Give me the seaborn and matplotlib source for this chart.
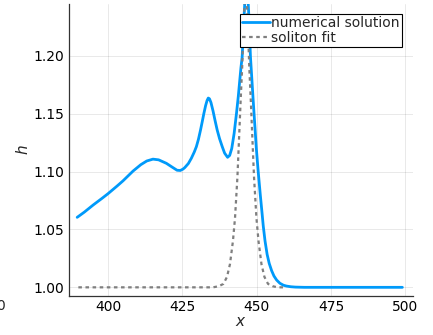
import numpy as np
import pandas as pd
import matplotlib
matplotlib.use("Agg")
import matplotlib.pyplot as plt
import seaborn as sns

# numerical solution
x_num = [389.6, 392, 395, 398, 400, 403, 405, 408.4, 411, 413, 415.1, 417, 419.6,
         421.5, 423.2, 424.3, 425.2, 425.8, 427.0, 428.0, 429.0, 429.7, 430.4,
         431.1, 431.7, 432.2, 432.8, 433.3, 433.7, 434.1, 434.6, 435.3, 436.0,
         436.7, 437.5, 438.4, 439.2, 440.2, 440.9, 441.6, 442.4, 443.2, 443.8,
         444.3, 444.7, 445.1, 445.8, 446.6, 447.3, 447.9, 448.8, 449.9, 450.5,
         451.2, 451.8, 452.2, 452.8, 453.5, 454.2, 455.0, 455.8, 456.7, 457.8,
         459.0, 460.0, 461.5, 463.0, 466.0, 475.0, 485.0, 499.0]
h_num = [1.0605, 1.0650, 1.0712, 1.0770, 1.0810, 1.0875, 1.0920, 1.1005, 1.1060,
         1.1092, 1.1108, 1.1102, 1.1072, 1.1040, 1.1012, 1.1010, 1.1022, 1.1035,
         1.1070, 1.1115, 1.1170, 1.1216, 1.1280, 1.1360, 1.1435, 1.1500, 1.1570,
         1.1615, 1.1636, 1.1630, 1.1598, 1.1525, 1.1440, 1.1360, 1.1285, 1.1216,
         1.1160, 1.1124, 1.1140, 1.1200, 1.1330, 1.1505, 1.1650, 1.1790, 1.1900,
         1.1990, 1.2370, 1.2750, 1.2370, 1.1990, 1.1620, 1.1190, 1.1000, 1.0800,
         1.0640, 1.0530, 1.0400, 1.0285, 1.0207, 1.0145, 1.0098, 1.0063, 1.0035,
         1.0018, 1.0011, 1.0005, 1.0002, 1.0, 1.0, 1.0, 1.0]

# soliton fit
x_fit = [390, 400, 410, 420, 430, 435.3, 437.3, 438.8, 440.0, 441.0, 442.0, 442.7,
         443.5, 443.9, 444.6, 445.1, 445.5, 446.3, 447.1, 447.5, 448.0, 448.7,
         449.1, 449.9, 450.6, 451.6, 452.6, 453.8, 455.3, 457.0, 459.5]
h_fit = [1.0, 1.0, 1.0, 1.0, 1.0, 1.0, 1.001, 1.003, 1.009, 1.020, 1.040, 1.060,
         1.095, 1.119, 1.162, 1.190, 1.220, 1.270, 1.220, 1.190, 1.162, 1.119,
         1.095, 1.060, 1.040, 1.020, 1.009, 1.003, 1.001, 1.0, 1.0]

x_ticks = [400, 425, 450, 475, 500]
y_ticks = [1.00, 1.05, 1.10, 1.15, 1.20]
y_tick_labels = ["1.00", "1.05", "1.10", "1.15", "1.20"]

df_num = pd.DataFrame({"x": x_num, "h": h_num})
df_fit = pd.DataFrame({"x": x_fit, "h": h_fit})

sns.set_style("white")
plt.rcParams["font.family"] = ["DejaVu Sans"]

fig = plt.figure(figsize=(4.33, 3.35), dpi=100)
ax = fig.add_axes([0.159, 0.1164, 0.795, 0.872])

sns.lineplot(data=df_num, x="x", y="h", ax=ax, color="#009AFA", lw=2.0,
             label="numerical solution", sort=False)
sns.lineplot(data=df_fit, x="x", y="h", ax=ax, color="#7f7f7f", lw=1.6,
             linestyle=(0, (1.6, 1.6)), label="soliton fit", sort=False)

ax.set_xlim(386.8, 502.6)
ax.set_ylim(0.9925, 1.245)
ax.set_xticks(x_ticks)
ax.set_yticks(y_ticks)
ax.set_yticklabels(y_tick_labels)
ax.grid(True, color="#000000", alpha=0.1, lw=0.6)
ax.set_axisbelow(True)
for s in ["top", "right"]:
    ax.spines[s].set_visible(False)
for s in ["left", "bottom"]:
    ax.spines[s].set_color("#333333")
    ax.spines[s].set_linewidth(0.9)
ax.tick_params(axis="both", direction="in", length=3, width=0.6, color="#333333",
               labelsize=10, labelcolor="black", pad=3)
ax.set_xlabel("$x$", fontsize=11, labelpad=0)
ax.set_ylabel("$h$", fontsize=11, labelpad=2)

leg = ax.legend(loc="upper right", bbox_to_anchor=(0.968, 0.966), frameon=True,
                fancybox=False, edgecolor="black", framealpha=1.0, fontsize=10,
                handlelength=2.0, handletextpad=0.1, borderpad=0.15,
                labelspacing=0.05, borderaxespad=0.0)
leg.get_frame().set_linewidth(0.8)

fig.text(5 / 433, 1 - 306 / 335, "0", ha="right", va="center", fontsize=10)

fig.savefig("out.png", dpi=100)
